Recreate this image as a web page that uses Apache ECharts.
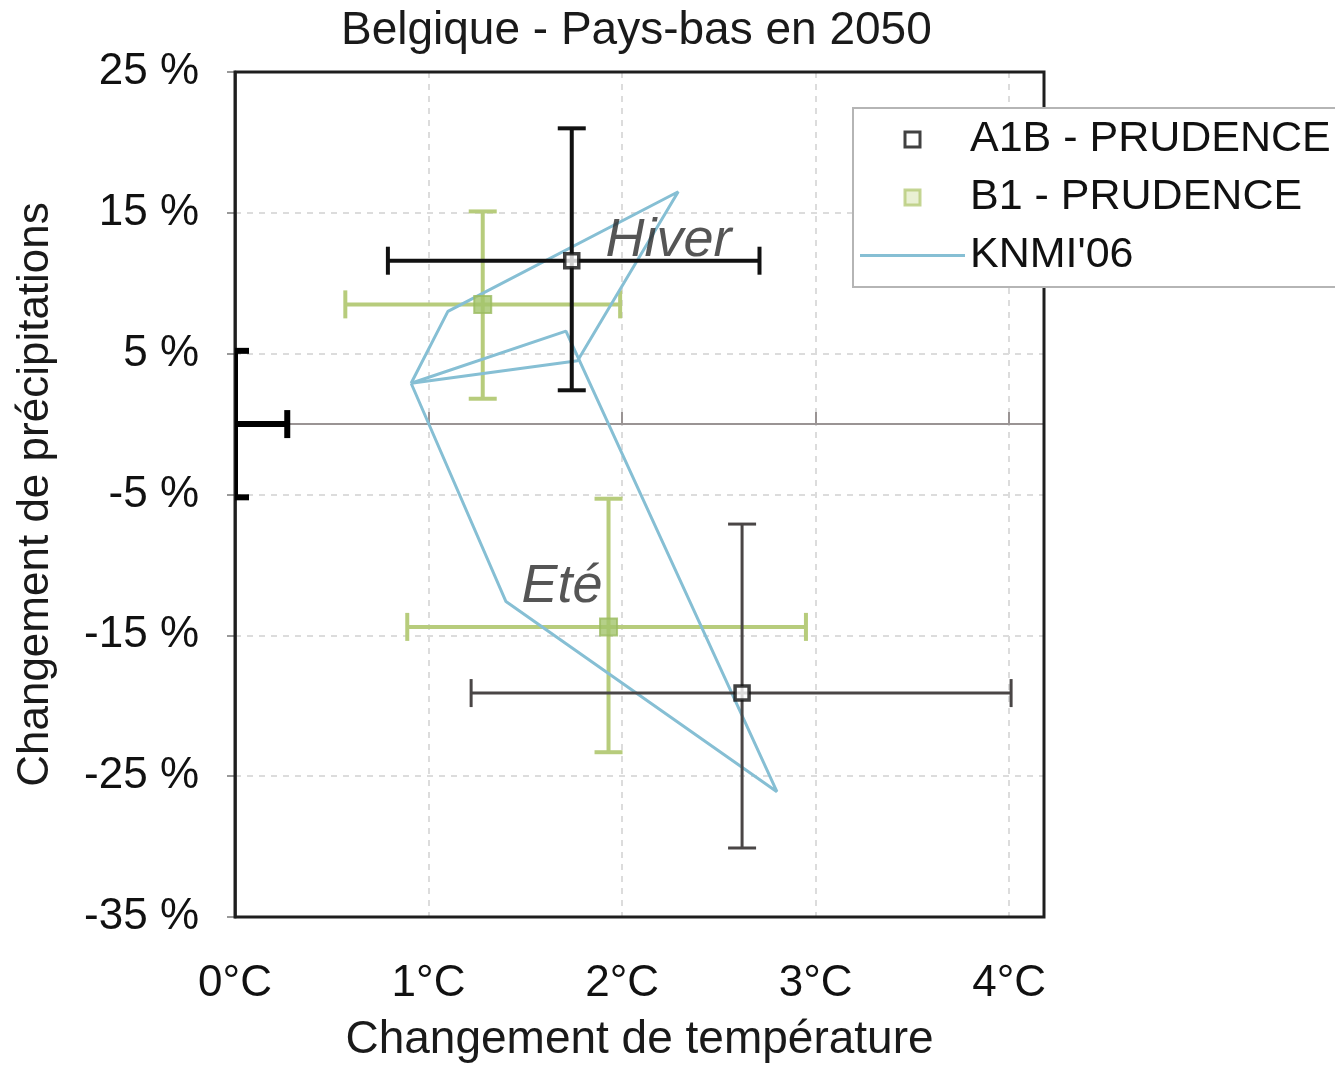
<!DOCTYPE html>
<html>
<head>
<meta charset="utf-8">
<script src="https://cdn.jsdelivr.net/npm/echarts@6/dist/echarts.min.js"></script>
<style>
  html, body { margin: 0; padding: 0; background: #ffffff; }
  #chart { width: 1335px; height: 1068px; }
</style>
</head>
<body>
<div id="chart"></div>
<script>
// ---------- data ----------
const chartTitle = 'Belgique - Pays-bas en 2050';
const xAxisTitle = 'Changement de température';
const yAxisTitle = 'Changement de précipitations';
const seriesNames = ['A1B - PRUDENCE', 'B1 - PRUDENCE', "KNMI'06"];

// PRUDENCE points: [temperature °C, precipitation %] (winter, summer)
const a1bPoints = [[1.74, 11.6], [2.62, -19.1]];
const a1bXRange = [[0.79, 2.71], [1.22, 4.01]];
const a1bYRange = [[2.4, 21.0], [-30.1, -7.1]];

const b1Points = [[1.28, 8.5], [1.93, -14.4]];
const b1XRange = [[0.57, 1.99], [0.89, 2.95]];
const b1YRange = [[1.8, 15.1], [-23.3, -5.3]];

// present-day reference uncertainty at the origin
const refPoints = [[0, 0]];
const refXRange = [[-0.27, 0.27]];
const refYRange = [[-5.2, 5.2]];

// KNMI'06 scenario polygons (G, G+, W+, W)
const knmiWinter = [[0.91, 2.9], [1.10, 8.0], [2.29, 16.5], [1.77, 4.5], [0.91, 2.9]];
const knmiSummer = [[0.91, 2.9], [1.71, 6.6], [2.80, -26.1], [1.40, -12.6], [0.91, 2.9]];

// season annotations
const seasonNames = ['Hiver', 'Eté'];
const seasonAnchors = [[2.24, 13.0], [1.69, -11.6]];

// axes
const xMin = 0, xMax = 4.18, xStep = 1;
const yMin = -35, yMax = 25, yStep = 10;

// ---------- helpers ----------
function buildBars(points, xr, yr) {
  return points.map((p, i) => [p[0], p[1], xr[i][0], xr[i][1], yr[i][0], yr[i][1]]);
}
function errorBars(colors, widths, cap) {
  return function (params, api) {
    const i = params.dataIndex;
    const x = api.value(0), y = api.value(1);
    const pL = api.coord([api.value(2), y]);
    const pR = api.coord([api.value(3), y]);
    const pB = api.coord([x, api.value(4)]);
    const pT = api.coord([x, api.value(5)]);
    const style = { stroke: colors[i % colors.length], lineWidth: widths[i % widths.length], fill: null };
    const ln = (x1, y1, x2, y2) => ({ type: 'line', shape: { x1, y1, x2, y2 }, style });
    return {
      type: 'group',
      children: [
        ln(pL[0], pL[1], pR[0], pR[1]),
        ln(pL[0], pL[1] - cap, pL[0], pL[1] + cap),
        ln(pR[0], pR[1] - cap, pR[0], pR[1] + cap),
        ln(pB[0], pB[1], pT[0], pT[1]),
        ln(pB[0] - cap, pB[1], pB[0] + cap, pB[1]),
        ln(pT[0] - cap, pT[1], pT[0] + cap, pT[1])
      ]
    };
  };
}

const FONT = "'Liberation Sans', Arial, Helvetica, sans-serif";
const knmiColor = '#86bfd4';
const greenBar = '#b7cc7c';

const chart = echarts.init(document.getElementById('chart'), null, { renderer: 'canvas' });

const option = {
  backgroundColor: '#ffffff',
  animation: false,
  textStyle: { fontFamily: FONT },
  title: {
    text: chartTitle,
    left: 336,
    top: 3,
    textStyle: { fontFamily: FONT, fontSize: 46, fontWeight: 'normal', color: '#1a1a1a' }
  },
  grid: {
    left: 235, right: 291, top: 72, bottom: 146,
    show: false
  },
  legend: {
    orient: 'vertical',
    left: 853,
    top: 108,
    padding: [10, 8, 10, 7],
    itemGap: 15,
    itemWidth: 105,
    itemHeight: 15,
    backgroundColor: '#fff',
    borderColor: '#b5b5b5',
    borderWidth: 2,
    textStyle: { fontFamily: FONT, fontSize: 43, color: '#111' },
    data: [
      { name: seriesNames[0], icon: 'path://M0,0H10V10H0Z',
        itemStyle: { color: '#fff', borderColor: '#111', borderWidth: 3 } },
      { name: seriesNames[1], icon: 'path://M0,0H10V10H0Z',
        itemStyle: { color: '#e4ecc8', borderColor: '#b5ca78', borderWidth: 3 } },
      { name: seriesNames[2], icon: 'path://M0,0H105V3H0Z',
        itemStyle: { color: knmiColor, borderWidth: 0 } }
    ]
  },
  xAxis: [
    {
      type: 'value', position: 'bottom', min: xMin, max: xMax, interval: xStep,
      axisLine: { show: false, onZero: false },
      axisTick: { show: false },
      axisLabel: {
        fontFamily: FONT, fontSize: 44, color: '#111', margin: 45,
        formatter: v => (Math.abs(v - Math.round(v)) < 1e-9 ? Math.round(v) + '°C' : '')
      },
      splitLine: { show: true, lineStyle: { color: '#dcdcdc', type: [6, 6], width: 2 } },
      name: xAxisTitle,
      nameLocation: 'middle',
      nameGap: 100,
      nameTextStyle: { fontFamily: FONT, fontSize: 46, color: '#1a1a1a' }
    },
    {
      type: 'value', position: 'top', min: xMin, max: xMax, interval: xStep,
      axisLine: { show: true, onZero: true, lineStyle: { color: '#9a9494', width: 2 } },
      axisTick: { show: true, length: 12, lineStyle: { color: '#9a9494', width: 2 } },
      axisLabel: { show: false },
      splitLine: { show: false }
    }
  ],
  yAxis: {
    type: 'value', min: yMin, max: yMax, interval: yStep,
    axisLine: { show: true, onZero: false, lineStyle: { color: '#555', width: 3 } },
    axisTick: { show: true, length: 8, lineStyle: { color: '#999', width: 2 } },
    axisLabel: {
      fontFamily: FONT, fontSize: 44, color: '#111', margin: 36,
      formatter: v => v + ' %'
    },
    splitLine: { show: true, lineStyle: { color: '#dcdcdc', type: [6, 6], width: 2 } },
    name: yAxisTitle,
    nameLocation: 'middle',
    nameGap: 177,
    nameRotate: 90,
    nameTextStyle: { fontFamily: FONT, fontSize: 44, color: '#1a1a1a' }
  },
  series: [
    {
      name: 'B1 bars', type: 'custom', z: 2, silent: true,
      renderItem: errorBars([greenBar], [4], 14),
      data: buildBars(b1Points, b1XRange, b1YRange)
    },
    {
      name: seriesNames[2], type: 'line', z: 3, symbol: 'none', silent: true,
      lineStyle: { color: knmiColor, width: 3 }, itemStyle: { color: knmiColor },
      data: knmiWinter
    },
    {
      name: seriesNames[2], type: 'line', z: 3, symbol: 'none', silent: true,
      lineStyle: { color: knmiColor, width: 3 }, itemStyle: { color: knmiColor },
      data: knmiSummer
    },
    {
      name: 'A1B bars', type: 'custom', z: 4, silent: true,
      renderItem: errorBars(['#111111', '#4a4646'], [4, 3], 14),
      data: buildBars(a1bPoints, a1bXRange, a1bYRange)
    },
    {
      name: 'ref bars', type: 'custom', z: 4, silent: true, clip: true,
      renderItem: errorBars(['#000000'], [6], 14),
      data: buildBars(refPoints, refXRange, refYRange)
    },
    {
      name: seriesNames[1], type: 'scatter', z: 5, symbol: 'rect', symbolSize: 17,
      itemStyle: { color: '#a3c46c', borderColor: '#9bbb60', borderWidth: 2 },
      data: b1Points
    },
    {
      name: seriesNames[0], type: 'scatter', z: 5, symbol: 'rect', symbolSize: 14,
      itemStyle: { color: '#ffffff', borderColor: '#111', borderWidth: 3.5 },
      data: a1bPoints
    },
    {
      name: 'saisons', type: 'scatter', z: 6, silent: true, symbolSize: 1,
      itemStyle: { color: 'rgba(0,0,0,0)' },
      label: {
        show: true, position: 'inside', formatter: p => seasonNames[p.dataIndex],
        fontFamily: FONT, fontStyle: 'italic', fontSize: 54, color: '#2a2a2a'
      },
      data: seasonAnchors
    }
  ]
};

chart.setOption(option);

// plot-area frame, placed from the axes' own scales
const topLeft = chart.convertToPixel({ gridIndex: 0 }, [xMin, yMax]);
const botRight = chart.convertToPixel({ gridIndex: 0 }, [xMax, yMin]);
chart.setOption({
  graphic: [{
    type: 'rect', z: 1, silent: true,
    shape: { x: topLeft[0], y: topLeft[1], width: botRight[0] - topLeft[0], height: botRight[1] - topLeft[1] },
    style: { fill: null, stroke: '#1e1e1e', lineWidth: 3 }
  }]
});
</script>
</body>
</html>
